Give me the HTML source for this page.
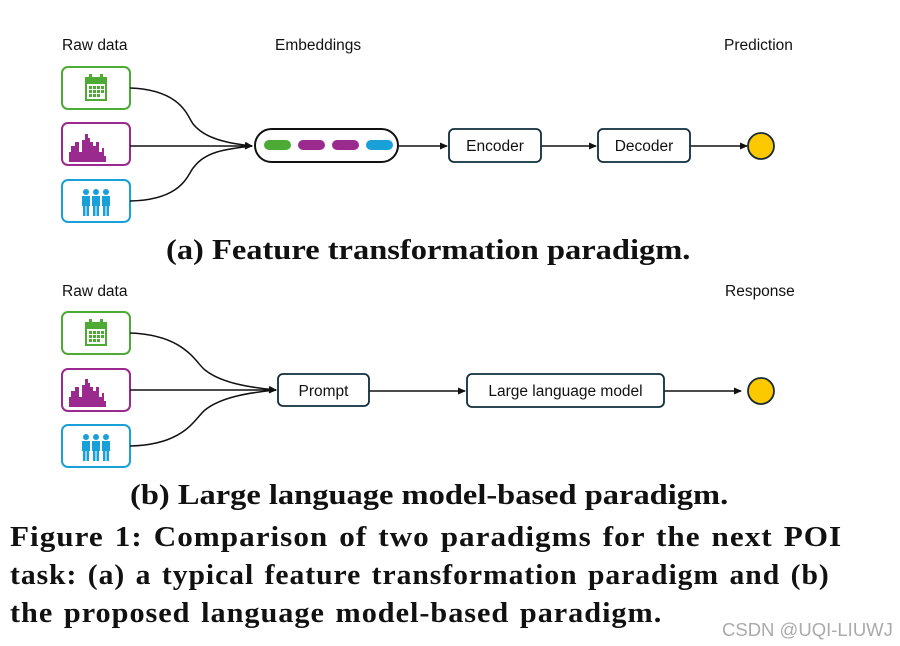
<!DOCTYPE html>
<html><head><meta charset="utf-8"><style>
body{margin:0;background:#fff;width:900px;height:646px;overflow:hidden;font-family:"Liberation Sans",sans-serif}
.cap{position:absolute;font-family:"Liberation Serif",serif;font-weight:bold;color:#111;white-space:nowrap;transform-origin:0 0;font-size:28px;line-height:30px}
</style></head><body>
<svg width="900" height="646" style="position:absolute;left:0;top:0" font-family="Liberation Sans, sans-serif">
<defs>
<marker id="a" markerWidth="8" markerHeight="8" refX="7" refY="4" orient="auto" markerUnits="userSpaceOnUse"><path d="M0,0.5L8,4L0,7.5z" fill="#111"/></marker>
<g id="cal"><rect x="-11" y="-11" width="22" height="24" fill="#4caa35"/><rect x="-9" y="-4" width="18" height="15" fill="#fff"/><g fill="#4caa35"><rect x="-7" y="-2" width="3" height="3"/><rect x="-3" y="-2" width="3" height="3"/><rect x="1" y="-2" width="3" height="3"/><rect x="5" y="-2" width="3" height="3"/><rect x="-7" y="2" width="3" height="3"/><rect x="-3" y="2" width="3" height="3"/><rect x="1" y="2" width="3" height="3"/><rect x="5" y="2" width="3" height="3"/><rect x="-7" y="6" width="3" height="3"/><rect x="-3" y="6" width="3" height="3"/><rect x="1" y="6" width="3" height="3"/></g><rect x="-7" y="-14" width="3" height="5" fill="#4caa35"/><rect x="4" y="-14" width="3" height="5" fill="#4caa35"/></g>
<path id="city" d="M-27,14V4h2v-6h4v-4h4v10h3V-8h3v-6h3v4h2v4h3V-2h3V-6h3V4h3v-4h2v8h2v6z" fill="#9b2a8f"/>
<g id="ppl" fill="#1aa0d8"><g id="p1"><circle cx="-10" cy="-10" r="3"/><rect x="-14" y="-6" width="8" height="10"/><rect x="-13" y="3" width="2.5" height="11"/><rect x="-9.5" y="3" width="2.5" height="11"/></g><use href="#p1" x="10"/><use href="#p1" x="20"/></g>
</defs>
<g font-size="15.5" fill="#111">
<text x="62" y="50">Raw data</text><text x="275" y="50">Embeddings</text><text x="724" y="50">Prediction</text>
<text x="62" y="296">Raw data</text><text x="725" y="296">Response</text>
</g>
<rect x="62" y="67" width="68" height="42" rx="6" fill="#fff" stroke="#4caa35" stroke-width="2"/>
<rect x="62" y="123" width="68" height="42" rx="6" fill="#fff" stroke="#9b2a8f" stroke-width="2"/>
<rect x="62" y="180" width="68" height="42" rx="6" fill="#fff" stroke="#1aa0d8" stroke-width="2"/>
<use href="#cal" x="96" y="88"/><use href="#city" x="96" y="148"/><use href="#ppl" x="96" y="202"/>
<g fill="none" stroke="#111" stroke-width="1.5">
<path d="M130,88C185,90 188,120 194,125C205,138 225,143 252,146" marker-end="url(#a)"/>
<path d="M130,146H252" marker-end="url(#a)"/>
<path d="M130,201C185,200 188,172 194,167C205,152 225,149 252,146"/>
<path d="M398,146H447" marker-end="url(#a)"/>
<path d="M541,146H596" marker-end="url(#a)"/>
<path d="M690,146H747" marker-end="url(#a)"/>
</g>
<rect x="255" y="129" width="143" height="33" rx="16.5" fill="#fff" stroke="#111" stroke-width="2"/>
<rect x="264" y="140" width="27" height="10" rx="5" fill="#4caa35"/>
<rect x="298" y="140" width="27" height="10" rx="5" fill="#9b2a8f"/>
<rect x="332" y="140" width="27" height="10" rx="5" fill="#9b2a8f"/>
<rect x="366" y="140" width="27" height="10" rx="5" fill="#1aa0d8"/>
<rect x="449" y="129" width="92" height="33" rx="5" fill="#fff" stroke="#0f2d3d" stroke-width="1.8"/>
<rect x="598" y="129" width="92" height="33" rx="5" fill="#fff" stroke="#0f2d3d" stroke-width="1.8"/>
<text x="495" y="151" font-size="15.5" text-anchor="middle" fill="#111">Encoder</text>
<text x="644" y="151" font-size="15.5" text-anchor="middle" fill="#111">Decoder</text>
<circle cx="761" cy="146" r="13" fill="#fcc800" stroke="#1a2a33" stroke-width="1.8"/>
<rect x="62" y="312" width="68" height="42" rx="6" fill="#fff" stroke="#4caa35" stroke-width="2"/>
<rect x="62" y="369" width="68" height="42" rx="6" fill="#fff" stroke="#9b2a8f" stroke-width="2"/>
<rect x="62" y="425" width="68" height="42" rx="6" fill="#fff" stroke="#1aa0d8" stroke-width="2"/>
<use href="#cal" x="96" y="333"/><use href="#city" x="96" y="393"/><use href="#ppl" x="96" y="447"/>
<g fill="none" stroke="#111" stroke-width="1.5">
<path d="M130,333C185,335 195,362 205,370C220,382 245,387 276,390" marker-end="url(#a)"/>
<path d="M130,390H276" marker-end="url(#a)"/>
<path d="M130,446C185,445 195,418 205,410C220,398 245,393 276,390"/>
<path d="M369,391H465" marker-end="url(#a)"/>
<path d="M664,391H741" marker-end="url(#a)"/>
</g>
<rect x="278" y="374" width="91" height="32" rx="5" fill="#fff" stroke="#0f2d3d" stroke-width="1.8"/>
<rect x="467" y="374" width="197" height="33" rx="5" fill="#fff" stroke="#0f2d3d" stroke-width="1.8"/>
<text x="323.5" y="396" font-size="15.5" text-anchor="middle" fill="#111">Prompt</text>
<text x="565.5" y="396" font-size="15.5" text-anchor="middle" fill="#111">Large language model</text>
<circle cx="761" cy="391" r="13" fill="#fcc800" stroke="#1a2a33" stroke-width="1.8"/>
</svg>
<div class="cap" style="left:166px;top:236px;transform:scaleX(1.16)">(a) Feature transformation paradigm.</div>
<div class="cap" style="left:130px;top:481px;transform:scaleX(1.16)">(b) Large language model-based paradigm.</div>
<div class="cap" style="left:10px;top:523px;letter-spacing:0.9px;word-spacing:2px;transform:scaleX(1.113)">Figure 1: Comparison of two paradigms for the next POI</div>
<div class="cap" style="left:10px;top:561px;letter-spacing:0.9px;word-spacing:2px;transform:scaleX(1.058)">task: (a) a typical feature transformation paradigm and (b)</div>
<div class="cap" style="left:10px;top:599px;letter-spacing:0.9px;word-spacing:2px;transform:scaleX(1.08)">the proposed language model-based paradigm.</div>
<div style="position:absolute;left:722px;top:619px;font-size:18.5px;color:#aaa">CSDN @UQI-LIUWJ</div>
</body></html>
